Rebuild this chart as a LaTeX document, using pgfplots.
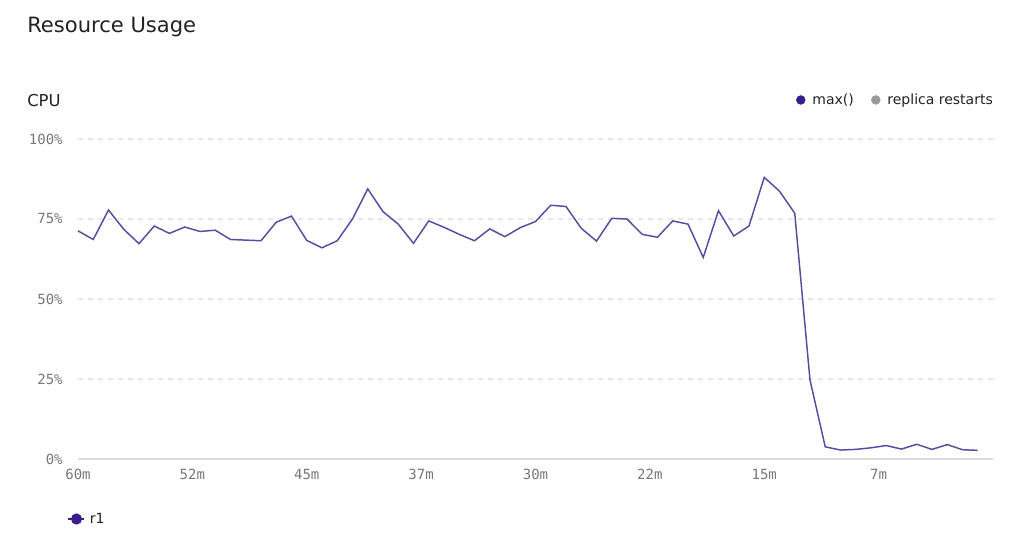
\documentclass[border=0pt]{standalone}
\usepackage{pgfplots}
\pgfplotsset{compat=1.18}
\usepackage{fontspec}
\setmainfont{DejaVu Sans}
\newfontfamily\monofont{DejaVu Sans Mono}
\definecolor{linec}{HTML}{5B4BA0}
\definecolor{dotc}{HTML}{3A1C8C}
\definecolor{restc}{HTML}{9A9A9E}
\definecolor{titlec}{HTML}{222222}
\definecolor{tickc}{HTML}{777777}
\definecolor{gridc}{HTML}{E8E8E8}
\definecolor{axisc}{HTML}{DCDCE4}
\pgfplotstableread{
m v
60 71.3
59 68.6
58 77.8
57 71.8
56 67.3
55 72.8
54 70.5
53 72.5
52 71.1
51 71.5
50 68.6
49 68.4
48 68.2
47 74.0
46 75.9
45 68.3
44 66.0
43 68.2
42 75.0
41 84.4
40 77.3
39 73.4
38 67.4
37 74.4
36 72.4
35 70.2
34 68.2
33 71.9
32 69.5
31 72.3
30 74.2
29 79.3
28 78.9
27 72.1
26 68.1
25 75.2
24 75.0
23 70.2
22 69.3
21 74.4
20 73.4
19 63.0
18 77.6
17 69.7
16 72.8
15 88.0
14 83.7
13 76.8
12 24.7
11 3.8
10 2.8
9 3.0
8 3.5
7 4.2
6 3.1
5 4.6
4 3.0
3 4.5
2 2.9
1 2.7
}\cpu
\begin{document}
\begin{tikzpicture}[x=0.75pt,y=0.75pt]
\useasboundingbox (0,0) rectangle (1013,542);
\node[anchor=west, inner sep=0, font=\fontsize{15.8}{18}\selectfont, text=titlec] at (27,515) {Resource Usage};
\node[anchor=west, inner sep=0, font=\fontsize{12.3}{14}\selectfont, text=titlec] at (27,441) {CPU};
\begin{axis}[
  at={(58.5pt,62.25pt)}, anchor=south west, scale only axis,
  width=686.25pt, height=240pt,
  xmin=0, xmax=60, x dir=reverse, ymin=0, ymax=100,
  clip=false,
  axis x line*=bottom, axis y line*=left,
  y axis line style={draw=none},
  x axis line style={draw=axisc, line width=1.5pt, -},
  xtick={60,52.5,45,37.5,30,22.5,15,7.5},
  xticklabels={60m,52m,45m,37m,30m,22m,15m,7m},
  ytick={0,25,50,75,100},
  yticklabels={0\%,25\%,50\%,75\%,100\%},
  major tick length=0pt,
  xtick style={draw=none}, ytick style={draw=none},
  ymajorgrids,
  grid style={draw=gridc, line width=0.9pt, dash pattern=on 3.5pt off 4pt},
  tick label style={font=\monofont\fontsize{10.5}{12}\selectfont, text=tickc},
  yticklabel style={xshift=-8pt},
  xticklabel style={yshift=-4pt},
  legend style={at={(axis description cs:-0.016,-0.1875)}, anchor=west, draw=none, fill=none,
    font=\fontsize{10.5}{13}\selectfont, text=titlec},
  legend cell align=left,
  legend image code/.code={\draw[dotc, line width=1.3pt] (0pt,0pt) -- (12pt,0pt); \fill[dotc] (6pt,0pt) circle (3.6pt); \path[draw=none, fill=none] (0pt,0pt) -- (14pt,0pt);},
]
\addplot[linec, line width=1.1pt, mark=none] table[x=m, y=v] {\cpu};
\addlegendentry{r1}
\end{axis}
\begin{axis}[
  at={(58.5pt,62.25pt)}, anchor=south west, scale only axis,
  width=686.25pt, height=240pt,
  xmin=0, xmax=60, ymin=0, ymax=100, hide axis,
  legend columns=2,
  legend style={at={(axis description cs:1.003,1.122)}, anchor=east, draw=none, fill=none,
    font=\fontsize{10.5}{13}\selectfont, text=titlec, inner sep=0pt,
    /tikz/every even column/.append style={column sep=11pt}},
  legend image code/.code={\fill (3.3pt,0pt) circle (3.3pt); \path[draw=none, fill=none] (0pt,0pt) -- (10pt,0pt);},
]
\addlegendimage{dotc}
\addlegendentry{max()}
\addlegendimage{restc}
\addlegendentry{replica restarts}
\end{axis}
\end{tikzpicture}
\end{document}
